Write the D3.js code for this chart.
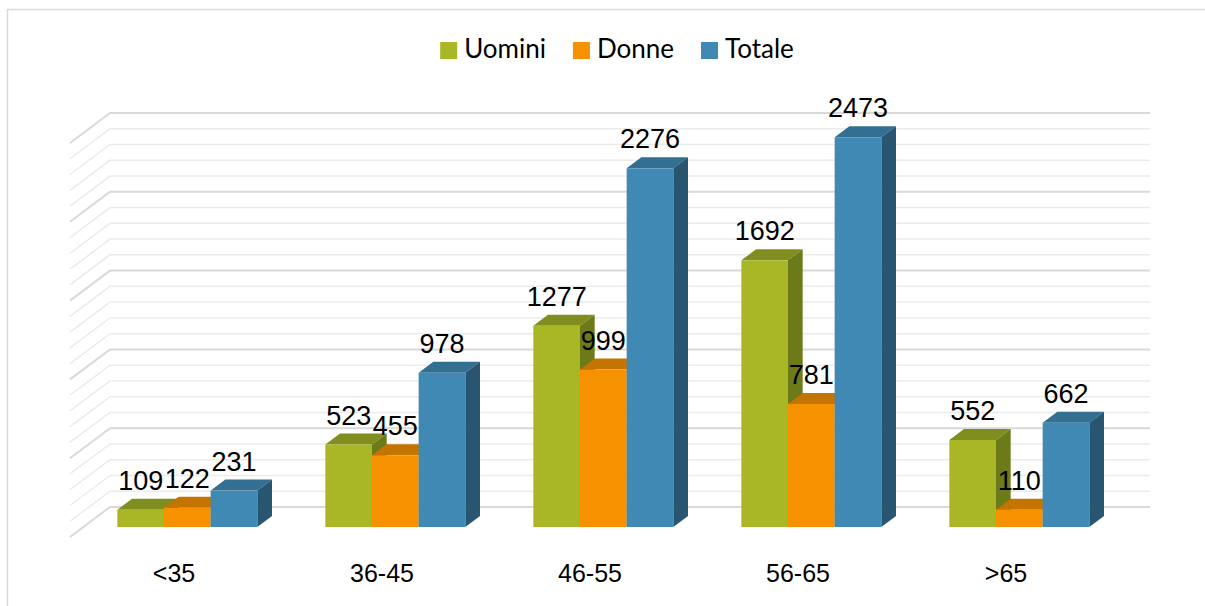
<!DOCTYPE html>
<html>
<head>
<meta charset="utf-8">
<script src="https://cdn.jsdelivr.net/npm/d3@7"></script>
<style>
  body { margin: 0; background: #fff; }
  svg { display: block; }
</style>
</head>
<body>
<div id="chart"></div>
<script>
// data
const categories = ["<35", "36-45", "46-55", "56-65", ">65"];
const seriesNames = ["Uomini", "Donne", "Totale"];
const uomini = [109, 523, 1277, 1692, 552];
const donne = [122, 455, 999, 781, 110];
const totale = [231, 978, 2276, 2473, 662];

const W = 1205, H = 606;
const colors = {
    Uomini: { front: "#a9b626", top: "#808e20", side: "#6c7a1a" },
    Donne:  { front: "#f69200", top: "#c47400", side: "#b86c00" },
    Totale: { front: "#3f89b4", top: "#336f91", side: "#28556f" }
};

let svg = d3.select("#chart").append("svg")
    .attr("width", W)
    .attr("height", H);

// frame
svg.append("rect")
    .attr("x", 7.5).attr("y", 9.5)
    .attr("width", W + 20).attr("height", H + 20)
    .attr("fill", "none")
    .attr("stroke", "#d9d9d9")
    .attr("stroke-width", 1.5);

// value scale lives on the back wall, depth moves things down-left
let y = d3.scaleLinear().domain([0, 2500]).range([507, 113]);
let depthX = 40, depthY = 30;

let x0 = d3.scaleBand()
    .domain(categories)
    .range([70, 1110])
    .paddingInner(0.327)
    .paddingOuter(0.1635);

let x1 = d3.scaleBand()
    .domain(seriesNames)
    .range([0, x0.bandwidth()]);

// t = 0 is floor front, t = 1 is back wall
function proj(xf, v, t) {
    return [xf + depthX * t, y(v) + depthY * (1 - t)];
}

// gridlines: back wall + left side wall
let floorL = x0.range()[0];
y.ticks(25).forEach(v => {
    let a = proj(floorL, v, 0), b = proj(floorL, v, 1), c = [1150, y(v)];
    let major = v % 500 === 0;
    svg.append("polyline")
        .attr("points", [a, b, c].map(p => p.join(",")).join(" "))
        .attr("fill", "none")
        .attr("stroke", major ? "#d9d9d9" : "#ebebeb")
        .attr("stroke-width", major ? 2 : 1.5);
});

// bars
let table = categories.map((c, i) => ({
    cat: c,
    values: [
        { key: "Uomini", v: uomini[i] },
        { key: "Donne", v: donne[i] },
        { key: "Totale", v: totale[i] }
    ]
}));

let t0 = 1 / 3, t1 = 0.7;
let bw = x1.bandwidth();
let pts = arr => arr.map(p => p.join(",")).join(" ");

table.forEach(g => {
    let gx = x0(g.cat);
    let grp = svg.append("g");
    g.values.forEach(d => {
        let xf = gx + x1(d.key);
        let col = colors[d.key];
        // top
        grp.append("polygon")
            .attr("points", pts([proj(xf, d.v, t0), proj(xf + bw, d.v, t0), proj(xf + bw, d.v, t1), proj(xf, d.v, t1)]))
            .attr("fill", col.top);
        // side
        grp.append("polygon")
            .attr("points", pts([proj(xf + bw, d.v, t0), proj(xf + bw, 0, t0), proj(xf + bw, 0, t1), proj(xf + bw, d.v, t1)]))
            .attr("fill", col.side);
        // front
        let pTop = proj(xf, d.v, t0), pBot = proj(xf, 0, t0);
        grp.append("rect")
            .attr("x", pTop[0]).attr("y", pTop[1])
            .attr("width", bw).attr("height", pBot[1] - pTop[1])
            .attr("fill", col.front);
    });
});

// value labels
table.forEach(g => {
    g.values.forEach(d => {
        let p = proj(x0(g.cat) + x1(d.key) + bw / 2, d.v, t0);
        svg.append("text")
            .attr("x", p[0])
            .attr("y", p[1] - 20)
            .attr("text-anchor", "middle")
            .attr("font-family", "Liberation Sans, Arial, sans-serif")
            .attr("font-size", 27)
            .attr("fill", "#000")
            .text(d.v);
    });
});

// category labels
svg.append("g").selectAll("text")
    .data(categories)
    .join("text")
    .attr("x", d => x0(d) + x0.bandwidth() / 2)
    .attr("y", 582)
    .attr("text-anchor", "middle")
    .attr("font-family", "Liberation Sans, Arial, sans-serif")
    .attr("font-size", 25)
    .attr("fill", "#000")
    .text(d => d);

// legend
let legend = svg.append("g");
let lx = 0;
seriesNames.forEach(name => {
    legend.append("rect")
        .attr("x", lx).attr("y", 42)
        .attr("width", 17).attr("height", 17)
        .attr("fill", colors[name].front);
    let t = legend.append("text")
        .attr("x", lx + 24).attr("y", 58)
        .attr("font-family", "Lato, sans-serif")
        .attr("font-size", 26)
        .attr("fill", "#000")
        .text(name);
    lx += 24 + t.node().getComputedTextLength() + 27;
});
let lw = lx - 27;
legend.attr("transform", "translate(" + (617 - lw / 2) + ",0)");
</script>
</body>
</html>
